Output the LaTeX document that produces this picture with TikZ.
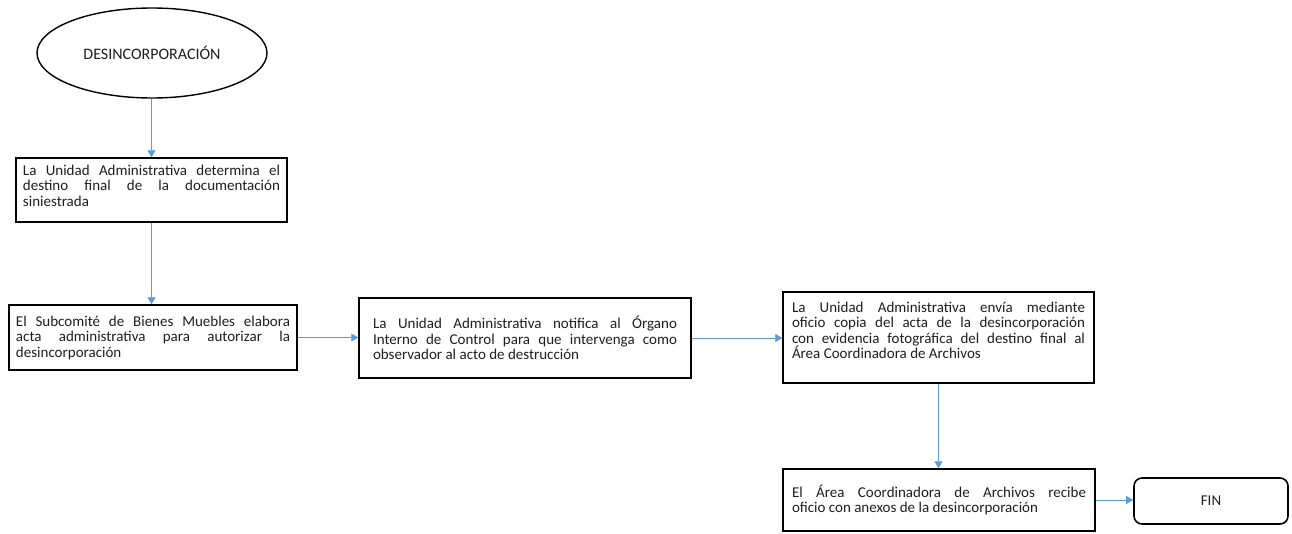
\documentclass[tikz,border=0pt]{standalone}
\usepackage{fontspec}
\setmainfont{Carlito}
\usetikzlibrary{arrows.meta,shapes.geometric}
\definecolor{flecha}{RGB}{91,155,213}
\definecolor{texto}{RGB}{30,30,30}
\hyphenpenalty=10000
\begin{document}
\begin{tikzpicture}[x=1pt,y=-1pt,
		caja/.style={draw, line width=1.5pt, align=justify, inner ysep=4pt, text=texto, font=\fontsize{15}{15.5}\selectfont},
		flujo/.style={-{Triangle[width=8pt,length=7pt]}, flecha, line width=0.9pt}]
		\useasboundingbox (0,0) rectangle (1292,533);
		\node[ellipse, draw, line width=1.4pt, minimum width=230, minimum height=90, text=texto, font=\fontsize{16}{18}\selectfont] (desinc) at (152,53) {DESINCORPORACIÓN};
		
		\node[caja, inner xsep=7pt, text width=257pt, minimum height=64] (determina) at (151.5,190) {La Unidad Administrativa determina el\linebreak destino final de la documentación\linebreak siniestrada\par\vspace*{9pt}};
		\node[caja, inner xsep=7pt, text width=274pt, minimum height=65] (subcomite) at (153,337.5) {El Subcomité de Bienes Muebles elabora\linebreak acta administrativa para autorizar la\linebreak desincorporación};
		\node[caja, inner xsep=14pt, text width=304pt, minimum height=80] (notifica) at (525,338) {La Unidad Administrativa notifica al Órgano\linebreak Interno de Control para que intervenga como\linebreak observador al acto de destrucción};
		\node[caja, inner xsep=9pt, text width=293pt, minimum height=91] (envia) at (938.5,337.5) {La Unidad Administrativa envía mediante\linebreak oficio copia del acta de la desincorporación\linebreak con evidencia fotográfica del destino final al\linebreak Área Coordinadora de Archivos\par\vspace*{14pt}};
		\node[caja, inner xsep=9pt, text width=294pt, minimum height=62] (recibe) at (939,500) {El Área Coordinadora de Archivos recibe\linebreak oficio con anexos de la desincorporación};
		\node[draw, line width=1.6pt, rounded corners=8pt, minimum width=154, minimum height=46, text=texto, font=\fontsize{15}{17}\selectfont] (fin) at (1211,501) {FIN};
		
		\draw[flujo] (desinc.south -| determina.north) -- (determina.north);
		\draw[flujo] (determina.south) -- (determina.south |- subcomite.north);
		\draw[flujo] (subcomite.east) -- (subcomite.east -| notifica.west);
		\draw[flujo] (notifica.east) -- (notifica.east -| envia.west);
		\draw[flujo] (envia.south) -- (envia.south |- recibe.north);
		\draw[flujo] (recibe.east) -- (recibe.east -| fin.west);
	\end{tikzpicture}
\end{document}
